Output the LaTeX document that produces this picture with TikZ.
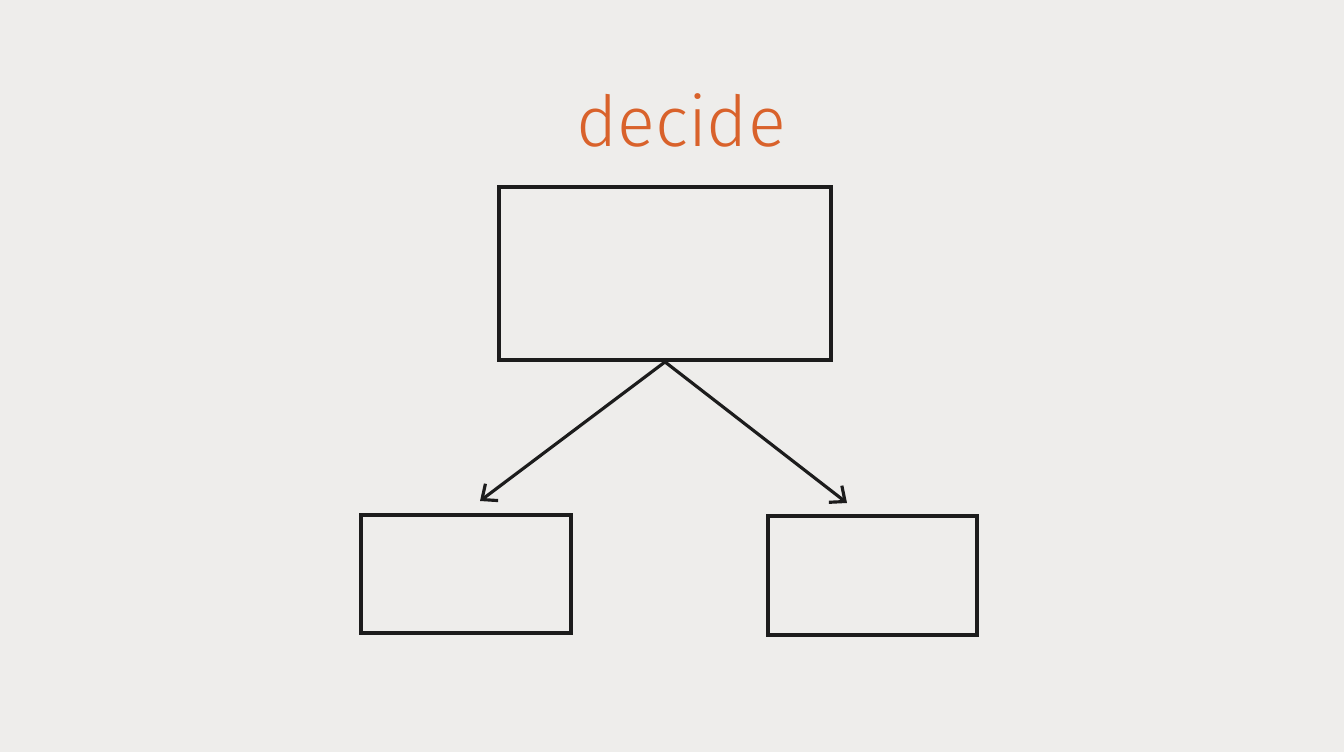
\documentclass[tikz,border=0pt]{standalone}
\usepackage{fontspec}
\newfontfamily\handfont{Fira Sans Light}
\usetikzlibrary{arrows.meta}
\definecolor{paper}{HTML}{EEEDEB}
\definecolor{ink}{HTML}{1C1C1C}
\definecolor{orangeink}{HTML}{D9622B}
\tikzset{
  box/.style={draw=ink, line width=2.2pt, fill=none, inner sep=0pt},
  link/.style={draw=ink, line width=1.8pt, -{Straight Barb[length=7pt,width=12pt,line width=1.8pt]}},
  label/.style={text=orangeink, font=\handfont\fontsize{40}{44}\selectfont}
}
\begin{document}
\begin{tikzpicture}
\fill[paper] (0,0) rectangle (26.88,15.04);
\useasboundingbox (0,0) rectangle (26.88,15.04);
\node[box, minimum width=6.64cm, minimum height=3.46cm] (top) at (13.3,9.57) {};
\node[box, minimum width=4.2cm, minimum height=2.36cm] (left) at (9.32,3.56) {};
\node[box, minimum width=4.18cm, minimum height=2.38cm] (right) at (17.45,3.53) {};
\node[label, anchor=base] (title) at (13.62,12.1) {decide};
\coordinate (ltip) at (9.6,5.02);
\coordinate (rtip) at (16.94,4.98);
\draw[link] (top.south) -- (ltip);
\draw[link] (top.south) -- (rtip);
\end{tikzpicture}
\end{document}
